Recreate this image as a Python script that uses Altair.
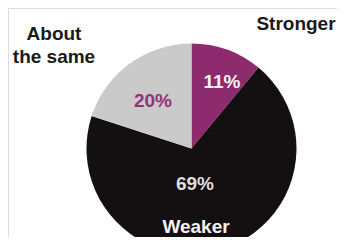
import altair as alt
import pandas as pd

categories = ["Stronger", "Weaker", "About the same"]
values = [11, 69, 20]
pct_labels = ["11%", "69%", "20%"]
slice_colors = ["#8e2a6e", "#141012", "#cacaca"]

pie_df = pd.DataFrame({"category": categories, "value": values, "order": [0, 1, 2]})

CX, CY, R = 183.5, 140.5, 105

pie = alt.Chart(pie_df).mark_arc(outerRadius=R, stroke=None).encode(
    theta=alt.Theta("value:Q", stack=True),
    order=alt.Order("order:Q"),
    color=alt.Color("category:N", scale=alt.Scale(domain=categories, range=slice_colors), legend=None),
    x=alt.value(CX),
    y=alt.value(CY),
)

label_text = ["Stronger", "About", "the same", "11%", "20%", "69%", "Weaker"]
label_x = [288, 46, 46, 214, 145, 187, 188]
label_y = [22, 32, 55, 80, 99, 182, 225]
label_color = ["#1a1a1a", "#1a1a1a", "#1a1a1a", "#f4f4f4", "#95307a", "#dedede", "#f4f4f4"]

lab_df = pd.DataFrame({"t": label_text, "x": label_x, "y": label_y, "c": label_color})

labels = alt.Chart(lab_df).mark_text(
    font="Liberation Sans", fontWeight="bold", fontSize=19, baseline="alphabetic", align="center"
).encode(
    x=alt.X("x:Q", scale=None),
    y=alt.Y("y:Q", scale=None),
    text="t:N",
    color=alt.Color("c:N", scale=None),
)

chart = alt.layer(pie, labels).properties(
    width=329, height=229, padding=0, autosize="none"
).configure_view(stroke=None).configure(background="white")

chart.save("out.html", embed_options={"renderer": "svg", "actions": False})
